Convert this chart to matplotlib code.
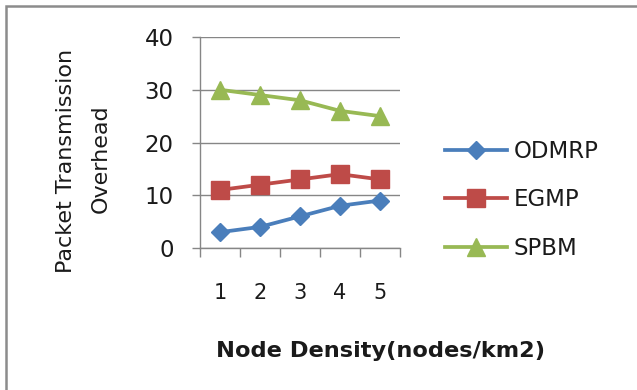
import matplotlib
matplotlib.use('Agg')
from matplotlib import pyplot as plt
from matplotlib.patches import Rectangle

density = [1, 2, 3, 4, 5]
odmrp = [3, 4, 6, 8, 9]
egmp = [11, 12, 13, 14, 13]
spbm = [30, 29, 28, 26, 25]

GRID = '#868686'
TEXT = '#1a1a1a'

plt.rcParams['font.family'] = ['DejaVu Sans']

fig = plt.figure(figsize=(6.37, 3.90), dpi=100)
ax = fig.add_axes([200 / 637, 142 / 390, 200 / 637, 211 / 390])

ax.plot(density, odmrp, color='#4A7EBB', lw=2.7, marker='D', ms=9, label='ODMRP')
ax.plot(density, egmp, color='#BE4B48', lw=2.7, marker='s', ms=13, label='EGMP')
ax.plot(density, spbm, color='#98B954', lw=2.7, marker='^', ms=12.5, label='SPBM')

ax.set_xlim(0.5, 5.5)
ax.set_ylim(0, 40)
ax.set_yticks([0, 10, 20, 30, 40])
ax.set_xticks(density)
ax.set_xticks([0.5, 1.5, 2.5, 3.5, 4.5, 5.5], minor=True)
ax.tick_params(axis='x', which='major', length=0, pad=25, labelsize=15, colors=TEXT)
ax.tick_params(axis='x', which='minor', length=6.5, width=1, color=GRID, direction='out')
ax.tick_params(axis='y', length=6, width=1, color=GRID, pad=13, labelsize=16.5, labelcolor=TEXT)
ax.yaxis.grid(True, color=GRID, lw=1)
ax.set_axisbelow(True)
for side in ['top', 'right']:
    ax.spines[side].set_visible(False)
for side in ['left', 'bottom']:
    ax.spines[side].set_color(GRID)
    ax.spines[side].set_linewidth(1)

# two-line y title, written as two rotated texts
fig.text(66 / 637, 1 - 161 / 390, 'Packet Transmission', rotation=90,
         ha='center', va='center', fontsize=16, color=TEXT)
fig.text(101 / 637, 1 - 159 / 390, 'Overhead', rotation=90,
         ha='center', va='center', fontsize=16, color=TEXT)
fig.text(380 / 637, 1 - 357 / 390, 'Node Density(nodes/km2)', ha='center', va='baseline',
         fontsize=16.2, fontweight='bold', color=TEXT)

leg = fig.legend(loc='center left', bbox_to_anchor=(445 / 637, 1 - 200 / 390), frameon=False,
                 fontsize=16.5, handlelength=2.7, labelspacing=1.1, handletextpad=0.3,
                 borderpad=0, borderaxespad=0)
for t in leg.get_texts():
    t.set_color(TEXT)

fig.patches.append(Rectangle((6 / 637, -0.1), 1.2, 1 - 6 / 390 + 0.1, transform=fig.transFigure,
                             fill=False, edgecolor='#8c8c8c', lw=1.8))

fig.savefig('out.png', dpi=100)
